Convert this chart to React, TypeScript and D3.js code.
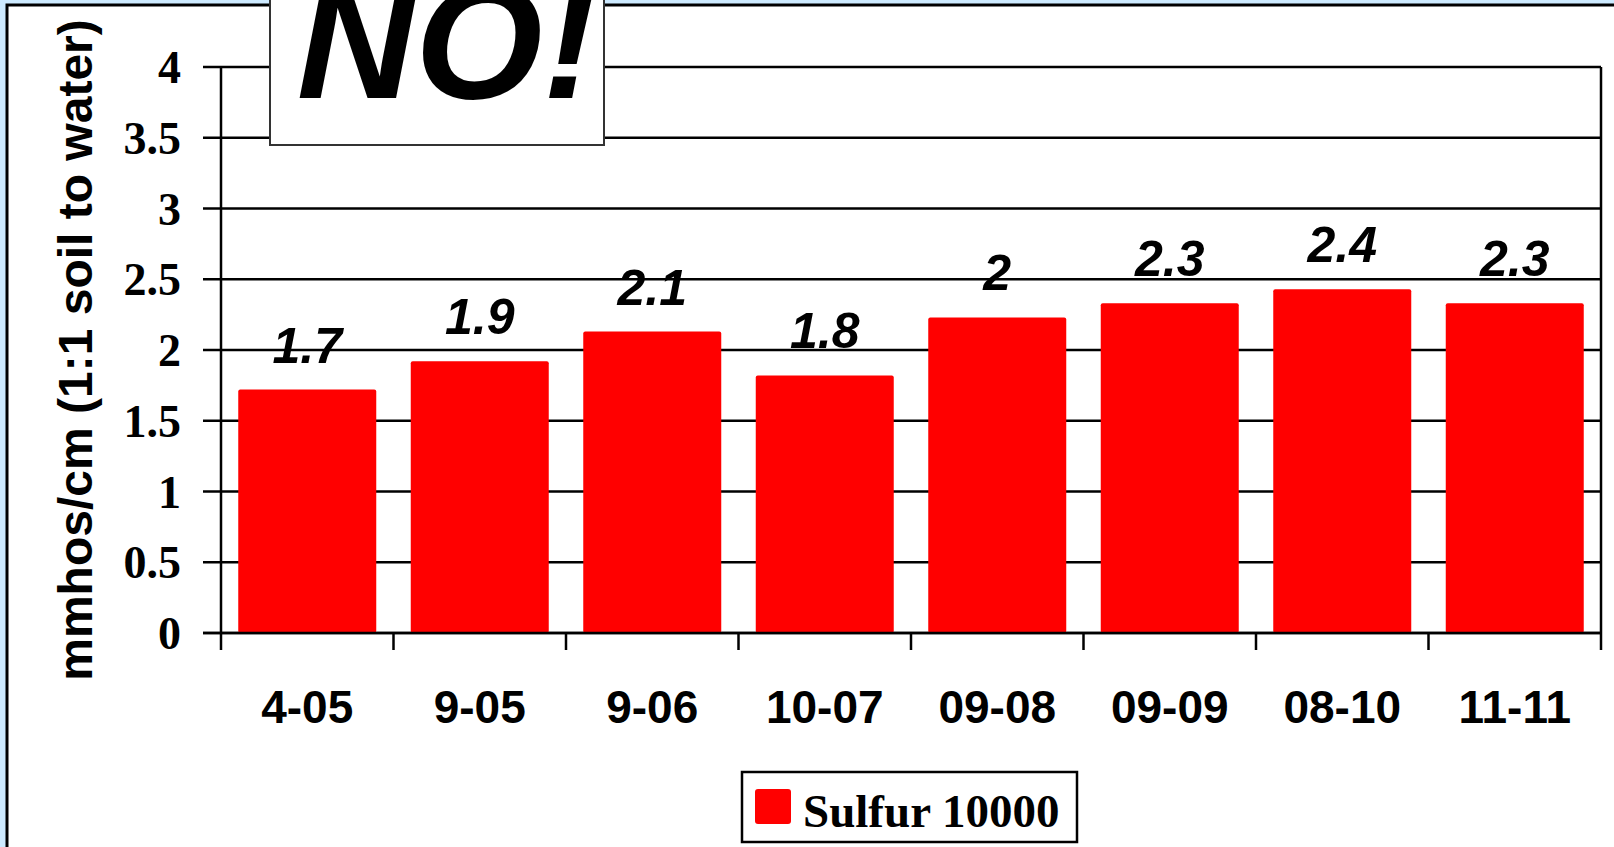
import React, { useRef, useEffect } from 'react';
import * as d3 from 'd3';

// sample dates and measured salinity (bar heights) with the printed labels
const dates = ['4-05', '9-05', '9-06', '10-07', '09-08', '09-09', '08-10', '11-11'];
const values = [1.72, 1.92, 2.13, 1.82, 2.23, 2.33, 2.43, 2.33];
const valueLabels = ['1.7', '1.9', '2.1', '1.8', '2', '2.3', '2.4', '2.3'];
const yTicks = [0, 0.5, 1, 1.5, 2, 2.5, 3, 3.5, 4];
const seriesName = 'Sulfur 10000';

function App() {
    const width = 1614;
    const height = 847;
    const svgRef = useRef<SVGSVGElement>(null);

    const plot = { left: 221, right: 1601, top: 67, bottom: 633 };

    const xScale = d3.scaleBand()
        .domain(dates)
        .range([plot.left, plot.right])
        .paddingInner(0.2)
        .paddingOuter(0.1);

    const yScale = d3.scaleLinear()
        .domain([0, 4])
        .range([plot.bottom, plot.top]);

    useEffect(() => {
        drawSvg();
    }, []);

    const drawSvg = () => {
        const svg = d3.select(svgRef.current);
        svg.selectAll('*').remove();

        // light blue page with the white frame
        svg.append('rect')
            .attr('width', width).attr('height', height)
            .attr('fill', '#cdeaff');
        svg.append('rect')
            .attr('x', 7).attr('y', 5)
            .attr('width', width + 20).attr('height', height + 20)
            .attr('fill', 'white')
            .attr('stroke', 'black')
            .attr('stroke-width', 3);

        // gridlines
        const g = svg.append('g');
        g.selectAll('line.grid').data(yTicks)
            .enter().append('line')
            .attr('class', 'grid')
            .attr('x1', plot.left - 18)
            .attr('x2', plot.right)
            .attr('y1', d => yScale(d))
            .attr('y2', d => yScale(d))
            .attr('stroke', 'black')
            .attr('stroke-width', 2.5);

        // right border of plot
        g.append('line')
            .attr('x1', plot.right).attr('x2', plot.right)
            .attr('y1', plot.top).attr('y2', plot.bottom)
            .attr('stroke', 'black').attr('stroke-width', 2.5);

        // bars
        g.selectAll('rect.bar').data(values)
            .enter().append('rect')
            .attr('class', 'bar')
            .attr('x', (d, i) => xScale(dates[i]) as number)
            .attr('y', d => yScale(d))
            .attr('width', xScale.bandwidth())
            .attr('height', d => plot.bottom - yScale(d))
            .attr('rx', 2)
            .attr('fill', '#ff0000');

        // y axis
        const yAxis = d3.axisLeft(yScale)
            .tickValues(yTicks)
            .tickSize(18)
            .tickPadding(22)
            .tickFormat(d3.format('~g') as any);
        const yAxisG = g.append('g')
            .attr('transform', `translate(${plot.left},0)`)
            .call(yAxis);
        yAxisG.select('.domain').remove();
        yAxisG.selectAll('.tick line').remove();
        yAxisG.selectAll('.tick text')
            .attr('font-family', '"Liberation Serif", "Times New Roman", serif')
            .attr('font-weight', 'bold')
            .attr('font-size', 46)
            .attr('fill', 'black')
            .attr('dy', '0.34em');
        g.append('line')
            .attr('x1', plot.left).attr('x2', plot.left)
            .attr('y1', plot.top).attr('y2', plot.bottom)
            .attr('stroke', 'black').attr('stroke-width', 2.5);

        // x axis
        const xAxis = d3.axisBottom(xScale).tickSize(0).tickPadding(0);
        const xAxisG = g.append('g')
            .attr('transform', `translate(0,${plot.bottom})`)
            .call(xAxis);
        xAxisG.select('.domain').remove();
        xAxisG.selectAll('.tick text')
            .attr('font-family', '"Liberation Sans", Arial, sans-serif')
            .attr('font-weight', 'bold')
            .attr('font-size', 46)
            .attr('fill', 'black')
            .attr('dy', 0)
            .attr('y', 90);
        const xTickPos = dates.map(d => xScale(d) as number - xScale.step() * 0.1);
        xTickPos.push(plot.right);
        g.selectAll('line.xtick').data(xTickPos)
            .enter().append('line')
            .attr('class', 'xtick')
            .attr('x1', d => d).attr('x2', d => d)
            .attr('y1', plot.bottom).attr('y2', plot.bottom + 17)
            .attr('stroke', 'black').attr('stroke-width', 2.5);
        g.append('line')
            .attr('x1', plot.left - 18).attr('x2', plot.right)
            .attr('y1', plot.bottom).attr('y2', plot.bottom)
            .attr('stroke', 'black').attr('stroke-width', 2.5);

        // value labels
        g.selectAll('text.val').data(values)
            .enter().append('text')
            .attr('class', 'val')
            .attr('x', (d, i) => (xScale(dates[i]) as number) + xScale.bandwidth() / 2)
            .attr('y', d => yScale(d) - 27)
            .attr('text-anchor', 'middle')
            .attr('font-family', '"Liberation Sans", Arial, sans-serif')
            .attr('font-weight', 'bold')
            .attr('font-style', 'italic')
            .attr('font-size', 50)
            .text((d, i) => valueLabels[i]);

        // y axis title
        svg.append('text')
            .attr('transform', `translate(92,350) rotate(-90)`)
            .attr('text-anchor', 'middle')
            .attr('font-family', '"Liberation Sans", Arial, sans-serif')
            .attr('font-weight', 'bold')
            .attr('font-size', 48)
            .text('mmhos/cm (1:1 soil to water)');

        // NO! callout (cut by the top edge, as in the slide)
        svg.append('rect')
            .attr('x', 270).attr('y', -10)
            .attr('width', 334).attr('height', 155)
            .attr('fill', 'white')
            .attr('stroke', '#333')
            .attr('stroke-width', 2);
        svg.append('text')
            .attr('x', 447).attr('y', 98)
            .attr('text-anchor', 'middle')
            .attr('font-family', '"Liberation Sans", Arial, sans-serif')
            .attr('font-weight', 'bold')
            .attr('font-style', 'italic')
            .attr('font-size', 164)
            .text('NO!');

        // legend
        const legend = svg.append('g');
        legend.append('rect')
            .attr('x', 742).attr('y', 772)
            .attr('width', 335).attr('height', 70)
            .attr('fill', 'white')
            .attr('stroke', 'black')
            .attr('stroke-width', 2.5);
        legend.append('rect')
            .attr('x', 755).attr('y', 789)
            .attr('width', 36).attr('height', 35)
            .attr('rx', 3)
            .attr('fill', '#ff0000');
        legend.append('text')
            .attr('x', 803).attr('y', 827)
            .attr('font-family', '"Liberation Serif", "Times New Roman", serif')
            .attr('font-weight', 'bold')
            .attr('font-size', 47)
            .text(seriesName);
    };

    return (
        <div style={{ position: 'absolute', left: 0, top: 0 }}>
            <svg ref={svgRef} width={width} height={height} style={{ display: 'block' }} />
        </div>
    );
}

export default App;
